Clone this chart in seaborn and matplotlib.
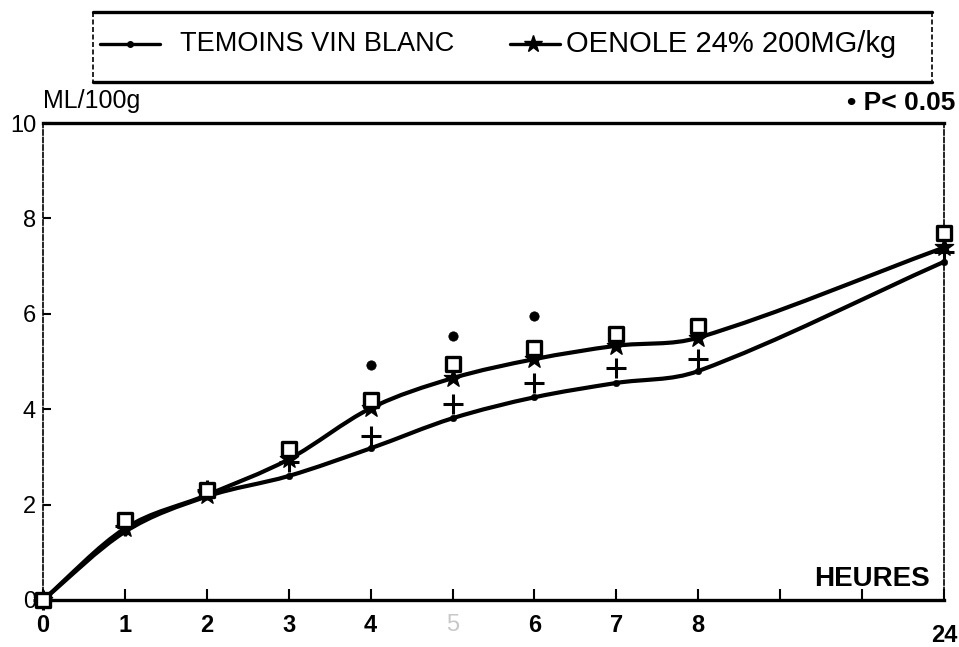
import numpy as np
import matplotlib
matplotlib.use("Agg")
import matplotlib.pyplot as plt
from matplotlib.path import Path
from matplotlib.patches import PathPatch
from matplotlib.lines import Line2D
from matplotlib.transforms import ScaledTranslation
import pandas as pd
import seaborn as sns

# Hours of measurement; 24 h sits after two empty slots on the axis
hours = [0, 1, 2, 3, 4, 5, 6, 7, 8, 24]
slots = [0, 1, 2, 3, 4, 5, 6, 7, 8, 11]
tick_labels = ["0", "1", "2", "3", "4", "5", "6", "7", "8", "", "", "24"]

# Volume (ML/100g)
temoins_mean = [0.0, 1.43, 2.17, 2.60, 3.18, 3.81, 4.25, 4.55, 4.80, 7.09]
temoins_sem_top = [0.0, 1.55, 2.30, 2.90, 3.43, 4.10, 4.55, 4.86, 5.05, 7.30]
oenole_mean = [0.0, 1.50, 2.20, 2.95, 4.02, 4.65, 5.05, 5.33, 5.50, 7.39]
oenole_sem_top = [0.0, 1.68, 2.30, 3.16, 4.20, 4.95, 5.28, 5.58, 5.75, 7.70]
signif_hours = [4, 5, 6]
signif_values = [4.93, 5.54, 5.96]

label_temoins = "TEMOINS VIN BLANC"
label_oenole = "OENOLE 24% 200MG/kg"

sns.set_theme(style="white")
plt.rcParams["font.family"] = ["Liberation Sans", "DejaVu Sans"]
plt.rcParams.update({"text.color": "black", "axes.labelcolor": "black",
                     "xtick.color": "black", "ytick.color": "black"})

W, H = 959, 647
fig = plt.figure(figsize=(W / 100, H / 100), dpi=100)
fx = lambda px: px / W
fy = lambda py: 1 - py / H

ax = fig.add_axes([fx(43), fy(600), fx(944) - fx(43), fy(123) - fy(600)])
ax.set_xlim(0, 11)
ax.set_ylim(0, 10)

df = pd.DataFrame({
    "slot": slots,
    "temoins": temoins_mean,
    "temoins_top": temoins_sem_top,
    "oenole": oenole_mean,
    "oenole_top": oenole_sem_top,
})


def smooth_path(xs, ys):
    """Cubic Hermite curve through the points, as Bezier segments."""
    x = np.asarray(xs, float)
    y = np.asarray(ys, float)
    h = np.diff(x)
    d = np.diff(y) / h
    m = np.empty_like(y)
    m[0], m[-1] = d[0], d[-1]
    for i in range(1, len(y) - 1):
        m[i] = (d[i - 1] * h[i - 1] + d[i] * h[i]) / (h[i - 1] + h[i])
    verts = [(x[0], y[0])]
    codes = [Path.MOVETO]
    for i in range(len(h)):
        k = h[i] / 3.0
        verts += [(x[i] + k, y[i] + m[i] * k),
                  (x[i + 1] - k, y[i + 1] - m[i + 1] * k),
                  (x[i + 1], y[i + 1])]
        codes += [Path.CURVE4] * 3
    return Path(verts, codes)


for col in ["temoins", "oenole"]:
    patch = PathPatch(smooth_path(df["slot"], df[col]), facecolor="none",
                      edgecolor="black", lw=3.0, capstyle="round",
                      joinstyle="round", zorder=3, clip_on=False)
    ax.add_patch(patch)

# Means
sns.scatterplot(data=df, x="slot", y="temoins", ax=ax, marker="o", s=22,
                color="black", edgecolor="black", zorder=5, clip_on=False,
                legend=False)
sns.scatterplot(data=df, x="slot", y="oenole", ax=ax, marker="*", s=190,
                color="black", edgecolor="black", linewidth=1, zorder=5,
                clip_on=False, legend=False)
# Standard error tops
sns.scatterplot(data=df, x="slot", y="temoins_top", ax=ax, marker="+", s=190,
                color="black", linewidth=2.2, zorder=6, clip_on=False,
                legend=False)
sns.scatterplot(data=df, x="slot", y="oenole_top", ax=ax, marker="s", s=110,
                facecolor="white", edgecolor="black", linewidth=2.4, zorder=6,
                clip_on=False, legend=False)
# Significance marks
sns.scatterplot(x=signif_hours, y=signif_values, ax=ax, marker="o", s=45,
                color="black", edgecolor="black", zorder=6, legend=False)

# Axes frame: solid top/bottom, dashed sides
for side in ["top", "bottom"]:
    ax.spines[side].set_linewidth(2.4)
    ax.spines[side].set_color("black")
for side in ["left", "right"]:
    ax.spines[side].set_linewidth(1.2)
    ax.spines[side].set_color("black")
    ax.spines[side].set_linestyle((0, (3, 1.5)))

ax.set_xticks(range(12))
ax.set_xticklabels(tick_labels)
ax.set_yticks([0, 2, 4, 6, 8, 10])
ax.set_yticklabels(["0", "2", "4", "6", "8", "10"])
ax.tick_params(axis="x", direction="in", length=8, width=1.5, pad=10,
               labelsize=17, bottom=True, colors="black")
ax.tick_params(axis="y", direction="in", length=6, width=1.5, pad=5,
               labelsize=17, left=True, colors="black")
for lab in ax.get_xticklabels():
    lab.set_fontweight("bold")
    if lab.get_text() == "5":
        lab.set_color("#c8c8c8")
        lab.set_fontweight("normal")
    if lab.get_text() == "24":
        lab.set_transform(lab.get_transform() +
                          ScaledTranslation(0, -10 / 100, fig.dpi_scale_trans))
ax.set_xlabel("")
ax.set_ylabel("")

ax.text(0.0, 1.02, "ML/100g", transform=ax.transAxes, fontsize=18,
        ha="left", va="bottom")
fig.text(fx(955), fy(103), "• P< 0.05", fontsize=19, fontweight="bold",
         ha="right", va="center")
fig.text(fx(930), fy(579), "HEURES", fontsize=20, fontweight="bold",
         ha="right", va="center")

# Legend box
fig.add_artist(Line2D([fx(93), fx(932)], [fy(12), fy(12)], color="black", lw=2.4))
fig.add_artist(Line2D([fx(93), fx(932)], [fy(82), fy(82)], color="black", lw=2.4))
for xp in [93, 932]:
    fig.add_artist(Line2D([fx(xp), fx(xp)], [fy(12), fy(82)], color="black",
                          lw=1.2, linestyle=(0, (3, 1.5))))
# Legend keys
fig.add_artist(Line2D([fx(100), fx(160)], [fy(44), fy(44)], color="black", lw=2.4))
fig.add_artist(Line2D([fx(130)], [fy(44)], color="black", marker="o", ms=4))
fig.add_artist(Line2D([fx(510), fx(560)], [fy(44), fy(44)], color="black", lw=2.4))
fig.add_artist(Line2D([fx(533)], [fy(44)], color="black", marker="*", ms=13))
fig.text(fx(180), fy(44), label_temoins, fontsize=19.5, ha="left", va="center")
fig.text(fx(566), fy(44), label_oenole, fontsize=21, ha="left", va="center")

fig.savefig("out.png", dpi=100, facecolor="white")
